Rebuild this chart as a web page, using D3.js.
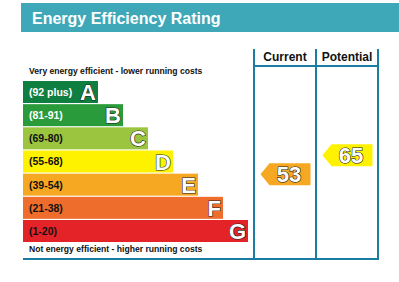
<!DOCTYPE html>
<html>
<head>
<meta charset="utf-8">
<script src="https://cdn.jsdelivr.net/npm/d3@7"></script>
<style>
  body { margin: 0; background: #fff; }
  svg { display: block; font-family: Arial, "Liberation Sans", sans-serif; }
</style>
</head>
<body>
<svg id="chart" width="399" height="282"></svg>
<script>
var bands = ["A", "B", "C", "D", "E", "F", "G"];
var ranges = ["(92 plus)", "(81-91)", "(69-80)", "(55-68)", "(39-54)", "(21-38)", "(1-20)"];
var bandColors = ["#0f7f41", "#2a9b3a", "#9bc43f", "#fff200", "#f6a823", "#ee6d2c", "#e42329"];
var rangeTextColors = ["#fff", "#fff", "#111", "#111", "#111", "#111", "#111"];
var columns = ["Current", "Potential"];
var ratings = [53, 65];
var ratingBands = ["E", "D"];

var svg = d3.select("#chart");
var lineColor = "#1b7ca2";

// title bar
svg.append("rect")
  .attr("x", 21).attr("y", 3)
  .attr("width", 378).attr("height", 29)
  .attr("fill", "#3ea8b9");
svg.append("text")
  .attr("x", 32).attr("y", 24)
  .attr("fill", "#fff")
  .style("font-size", "16px")
  .style("font-weight", "bold")
  .text("Energy Efficiency Rating");

// scales
var y = d3.scaleBand()
  .domain(bands)
  .range([81, 242])
  .paddingInner(0.05);

var barWidth = d3.scaleLinear()
  .domain([0, bands.length - 1])
  .range([75, 225]);

var colX = d3.scaleBand()
  .domain(columns)
  .range([254, 378]);

var ratingY = d3.scaleLinear()
  .domain([0, 100])
  .range([258, 100]);

var bandColor = d3.scaleOrdinal().domain(bands).range(bandColors);

// band bars
var rows = svg.selectAll("g.band")
  .data(bands)
  .enter()
  .append("g")
  .attr("class", "band")
  .attr("transform", function(d) { return "translate(23," + y(d) + ")"; });

rows.append("rect")
  .attr("width", function(d, i) { return barWidth(i); })
  .attr("height", y.bandwidth())
  .attr("fill", function(d) { return bandColor(d); });

rows.append("text")
  .attr("x", 6)
  .attr("y", y.bandwidth() / 2 + 4)
  .attr("fill", function(d, i) { return rangeTextColors[i]; })
  .style("font-size", "10.5px")
  .style("font-weight", "bold")
  .text(function(d, i) { return ranges[i]; });

rows.append("text")
  .attr("x", function(d, i) { return barWidth(i) - 2; })
  .attr("y", y.bandwidth() / 2 + 8)
  .attr("text-anchor", "end")
  .attr("fill", "#fff")
  .attr("stroke", "#222")
  .attr("stroke-width", 1.2)
  .attr("paint-order", "stroke")
  .style("font-size", "22px")
  .style("font-weight", "bold")
  .text(function(d) { return d; });

// top and bottom notes
svg.append("text")
  .attr("x", 29).attr("y", 74)
  .attr("fill", "#111")
  .style("font-size", "8.6px")
  .style("font-weight", "bold")
  .text("Very energy efficient - lower running costs");
svg.append("text")
  .attr("x", 29).attr("y", 252)
  .attr("fill", "#111")
  .style("font-size", "8.6px")
  .style("font-weight", "bold")
  .text("Not energy efficient - higher running costs");

// column frame
var colEdges = [colX.range()[0]].concat(columns.map(function(c) { return colX(c) + colX.bandwidth(); }));
svg.selectAll("line.col")
  .data(colEdges)
  .enter()
  .append("line")
  .attr("class", "col")
  .attr("x1", function(d) { return d; })
  .attr("x2", function(d) { return d; })
  .attr("y1", 49)
  .attr("y2", 260)
  .attr("stroke", lineColor)
  .attr("stroke-width", 2);

svg.append("line")
  .attr("x1", colX.range()[0]).attr("x2", colX.range()[1])
  .attr("y1", 66).attr("y2", 66)
  .attr("stroke", lineColor).attr("stroke-width", 2);

svg.append("line")
  .attr("x1", 23).attr("x2", colX.range()[1] + 1)
  .attr("y1", 259).attr("y2", 259)
  .attr("stroke", lineColor).attr("stroke-width", 2);

svg.selectAll("text.colhead")
  .data(columns)
  .enter()
  .append("text")
  .attr("class", "colhead")
  .attr("x", function(d) { return colX(d) + colX.bandwidth() / 2; })
  .attr("y", 61)
  .attr("text-anchor", "middle")
  .attr("fill", "#111")
  .style("font-size", "12px")
  .style("font-weight", "bold")
  .text(function(d) { return d; });

// rating arrows
var arrowH = 22, arrowW = 50, tip = 9;
var arrows = svg.selectAll("g.arrow")
  .data(ratings)
  .enter()
  .append("g")
  .attr("class", "arrow")
  .attr("transform", function(d, i) {
    var right = colX(columns[i]) + colX.bandwidth() - 5.5;
    return "translate(" + (right - arrowW) + "," + (ratingY(d) - arrowH / 2) + ")";
  });

arrows.append("path")
  .attr("d", "M0," + arrowH / 2 + "L" + tip + ",0H" + arrowW + "V" + arrowH + "H" + tip + "Z")
  .attr("fill", function(d, i) { return bandColor(ratingBands[i]); });

arrows.append("text")
  .attr("x", (arrowW + tip) / 2 - 1)
  .attr("y", arrowH / 2 + 8)
  .attr("text-anchor", "middle")
  .attr("fill", "#fff")
  .attr("stroke", "#222")
  .attr("stroke-width", 1.2)
  .attr("paint-order", "stroke")
  .style("font-size", "22px")
  .style("font-weight", "bold")
  .text(function(d) { return d; });
</script>
</body>
</html>
